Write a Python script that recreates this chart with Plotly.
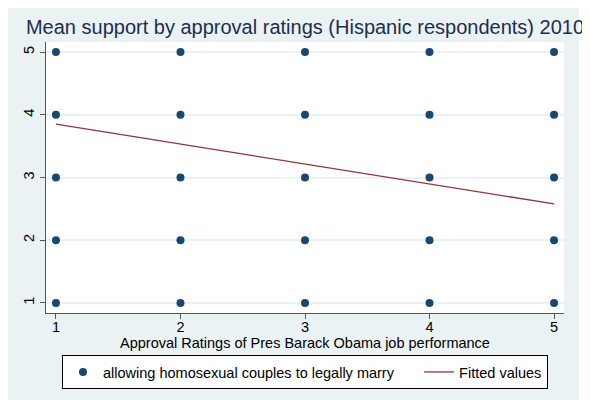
import plotly.graph_objs as go

# observed (approval, support) combinations
approval = [1, 1, 1, 1, 1,
            2, 2, 2, 2, 2,
            3, 3, 3, 3, 3,
            4, 4, 4, 4, 4,
            5, 5, 5, 5, 5]
support = [1, 2, 3, 4, 5,
           1, 2, 3, 4, 5,
           1, 2, 3, 4, 5,
           1, 2, 3, 4, 5,
           1, 2, 3, 4, 5]

# linear fit end points
fit_x = [1, 5]
fit_y = [3.85, 2.58]

tick_vals = [1, 2, 3, 4, 5]

title_text = 'Mean support by approval ratings (Hispanic respondents) 2010'
x_title = 'Approval Ratings of Pres Barack Obama job performance'
nbsp = '\u00a0'

fig = go.Figure()
fig.add_trace(go.Scatter(
    x=approval, y=support,
    mode='markers',
    name='allowing homosexual couples to legally marry' + nbsp * 5,
    marker=dict(color='#1a476f', size=8)))
fig.add_trace(go.Scatter(
    x=fit_x, y=fit_y,
    mode='lines',
    name='Fitted values',
    line=dict(color='#90353b', width=1.3)))

# white strip on the right of the light background (plot area is 518 x 271 px)
fig.add_shape(type='rect', xref='paper', yref='paper', fillcolor='white',
              line=dict(width=0), layer='below',
              x0=533 / 518, x1=1.2, y0=-0.5, y1=1.5)

# x title as annotation so it can sit close to the tick labels
fig.add_annotation(text=x_title, xref='paper', yref='paper', x=0.5, y=-0.11,
                   xanchor='center', yanchor='middle', showarrow=False,
                   font=dict(size=14.5))

fig.update_layout(
    width=590, height=400,
    margin=dict(l=38, r=34, t=34, b=95, autoexpand=False),
    paper_bgcolor='#eaf2f3',
    plot_bgcolor='white',
    font=dict(family='Liberation Sans, Arial, sans-serif', size=14.5, color='black'),
    title=dict(text=title_text, x=0.5, xref='paper', xanchor='center',
               y=1.0 - 19 / 400, yanchor='middle',
               font=dict(size=20, color='#1e2d50')),
    xaxis=dict(range=[0.92, 5.08], tickvals=tick_vals, showgrid=False, automargin=False,
               zeroline=False, showline=True, linecolor='#555555', linewidth=1.2,
               ticks='outside', ticklen=5, tickcolor='#555555',
               ticklabelstandoff=-5),
    yaxis=dict(range=[0.84, 5.16], tickvals=tick_vals, tickangle=-90, automargin=False,
               showgrid=True, gridcolor='#eaf2f3', gridwidth=1.5,
               zeroline=False, showline=True, linecolor='#555555', linewidth=1.2,
               ticks='outside', ticklen=5, tickcolor='#555555'),
    showlegend=True,
    legend=dict(orientation='h', x=0.5, xanchor='center', y=-0.155, yanchor='top',
                bgcolor='white', bordercolor='black', borderwidth=1,
                font=dict(size=14.5)),
)

fig.write_html("out.html")
